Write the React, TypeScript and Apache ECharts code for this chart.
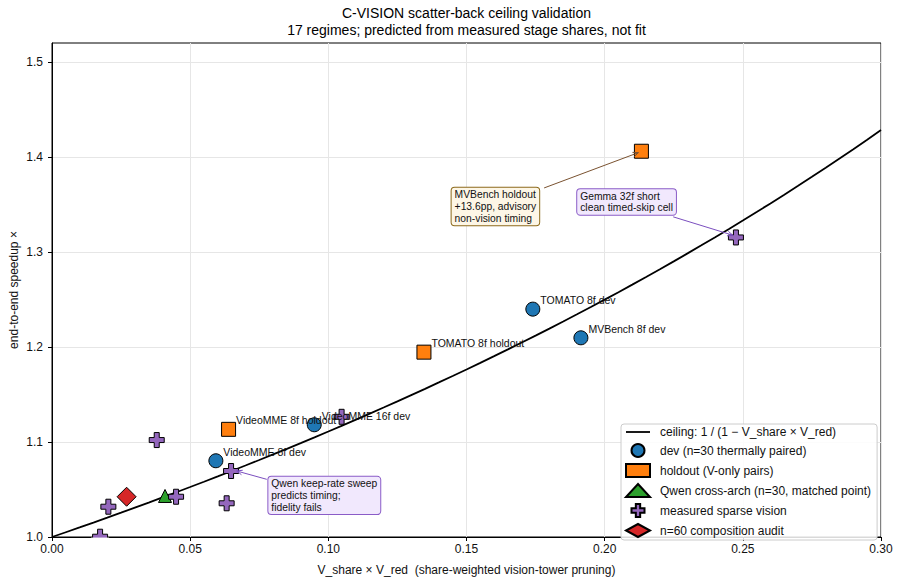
import React, { useEffect, useRef } from 'react';
import * as echarts from 'echarts';

const TITLE = 'C-VISION scatter-back ceiling validation';
const SUBTITLE = '17 regimes; predicted from measured stage shares, not fit';
const X_NAME = 'V_share × V_red  (share-weighted vision-tower pruning)';
const Y_NAME = 'end-to-end speedup ×';

const xTicks = [0, 0.05, 0.1, 0.15, 0.2, 0.25, 0.3];
const yTicks = [1.0, 1.1, 1.2, 1.3, 1.4, 1.5];

const devNames = ['VideoMME 8f dev', 'VideoMME 16f dev', 'TOMATO 8f dev', 'MVBench 8f dev'];
const devX = [0.0593, 0.0949, 0.174, 0.1914];
const devY = [1.0803, 1.1182, 1.24, 1.2098];

const holdoutNames = ['VideoMME 8f holdout', 'TOMATO 8f holdout', 'MVBench holdout'];
const holdoutX = [0.0639, 0.1346, 0.2133];
const holdoutY = [1.1134, 1.1947, 1.4063];
const holdoutLabeled = [true, true, false];

const qwenX = [0.0409];
const qwenY = [1.0432];

const sparseX = [0.0174, 0.0204, 0.0379, 0.0449, 0.0632, 0.0648, 0.1048, 0.2475];
const sparseY = [1.0003, 1.0319, 1.1021, 1.0424, 1.0355, 1.0695, 1.1266, 1.3155];

const auditX = [0.027];
const auditY = [1.0424];

// x positions where the analytic ceiling 1/(1 - x) is drawn
const ceilingXs = Array.from({ length: 61 }, (_, i) => i * 0.005);

const legendNames = [
  'ceiling: 1 / (1 − V_share × V_red)',
  'dev (n=30 thermally paired)',
  'holdout (V-only pairs)',
  'Qwen cross-arch (n=30, matched point)',
  'measured sparse vision',
  'n=60 composition audit',
];

const annotations = [
  {
    target: [holdoutX[2], holdoutY[2]],
    text: 'MVBench holdout\n+13.6pp, advisory\nnon-vision timing',
    box: [-189.8, 36.5],
    start: [-97.3, 36.7],
    end: [-3, 1.4],
    bg: '#fdf6e6',
    border: '#8c6a1c',
    arrow: '#7a5230',
  },
  {
    target: [sparseX[7], sparseY[7]],
    text: 'Gemma 32f short\nclean timed-skip cell',
    box: [-158.7, -48.3],
    start: [-62.7, -20.6],
    end: [-3, -2.2],
    bg: '#f1e8fd',
    border: '#8a5cc7',
    arrow: '#7b4fbf',
  },
  {
    target: [sparseX[5], sparseY[5]],
    text: 'Qwen keep-rate sweep\npredicts timing;\nfidelity fails',
    box: [37.3, 5.7],
    start: [35.7, 8.3],
    end: [5.7, 0],
    bg: '#f1e8fd',
    border: '#8a5cc7',
    arrow: '#7b4fbf',
  },
];

const FONT = '"Liberation Sans", Arial, Helvetica, sans-serif';
const PLUS = 'path://M-1,-3H1V-1H3V1H1V3H-1V1H-3V-1H-1Z';
const LINE_ICON = 'path://M0,0H24V1.8H0Z';

const pointLabel = {
  show: false,
  position: 'right',
  distance: 0,
  offset: [0, -9],
  formatter: '{b}',
  fontSize: 10.5,
  color: '#111',
  fontFamily: FONT,
};

const edge = { borderColor: '#000', borderWidth: 1, opacity: 1 };

export default function App() {
  const ref = useRef<HTMLDivElement>(null);
  useEffect(() => {
    const chart = echarts.init(ref.current!, null, { renderer: 'svg' });
    const option: any = {
      animation: false,
      backgroundColor: '#fff',
      textStyle: { fontFamily: FONT },
      grid: {
        left: 52,
        right: 20,
        top: 43,
        bottom: 46,
        show: true,
        borderColor: '#000',
        borderWidth: 1,
        backgroundColor: 'transparent',
        containLabel: false,
        outerBoundsMode: 'none',
      },
      xAxis: {
        type: 'value',
        min: 0,
        max: 0.3,
        interval: 0.05,
        name: X_NAME,
        nameLocation: 'middle',
        nameGap: 27,
        nameMoveOverlap: false,
        nameTextStyle: { fontSize: 12, color: '#111', fontFamily: FONT },
        axisLine: { show: true, lineStyle: { color: '#000', width: 1 } },
        axisTick: { show: true, length: 4, lineStyle: { color: '#000' } },
        axisLabel: {
          fontSize: 12,
          color: '#111',
          margin: 6,
          formatter: (v: number) => v.toFixed(2),
        },
        splitLine: { show: true, lineStyle: { color: '#e6e6e6', width: 1 } },
      },
      yAxis: {
        type: 'value',
        min: 1.0,
        max: 1.5203,
        interval: 0.1,
        name: Y_NAME,
        nameLocation: 'middle',
        nameGap: 32,
        nameMoveOverlap: false,
        nameTextStyle: { fontSize: 12, color: '#111', fontFamily: FONT },
        axisLine: { show: true, lineStyle: { color: '#000', width: 1 } },
        axisTick: { show: true, length: 4, lineStyle: { color: '#000' }, customValues: yTicks },
        axisLabel: {
          fontSize: 12,
          color: '#111',
          margin: 9,
          customValues: yTicks,
          formatter: (v: number) => v.toFixed(1),
        },
        splitLine: { show: true, lineStyle: { color: '#e6e6e6', width: 1 } },
      },
      legend: {
        orient: 'vertical',
        left: 621,
        top: 424,
        padding: [2, 6, 2, 4],
        itemWidth: 24,
        itemHeight: 13,
        itemGap: 5,
        backgroundColor: 'rgba(255,255,255,0.85)',
        borderColor: '#cccccc',
        borderWidth: 1,
        borderRadius: 3,
        textStyle: { fontSize: 12, color: '#111', fontFamily: FONT, padding: [0, 0, 0, 5] },
        data: legendNames.map((n, i) =>
          i === 0 ? { name: n, icon: LINE_ICON, itemStyle: { color: '#000', borderWidth: 0 } } : { name: n }
        ),
      },
      series: [
        {
          name: legendNames[0],
          type: 'line',
          symbol: 'none',
          z: 2,
          lineStyle: { color: '#000', width: 1.8 },
          itemStyle: { color: '#000' },
          data: ceilingXs.map((x) => [x, 1 / (1 - x)]),
        },
        {
          name: legendNames[1],
          type: 'scatter',
          symbol: 'circle',
          symbolSize: 14,
          z: 3,
          itemStyle: { color: '#1f77b4', ...edge },
          label: pointLabel,
          data: devX.map((x, i) => ({ name: devNames[i], value: [x, devY[i]], label: { show: true } })),
        },
        {
          name: legendNames[2],
          type: 'scatter',
          symbol: 'rect',
          symbolSize: 14,
          z: 3,
          itemStyle: { color: '#ff7f0e', ...edge },
          label: pointLabel,
          data: holdoutX.map((x, i) => ({
            name: holdoutNames[i],
            value: [x, holdoutY[i]],
            label: { show: holdoutLabeled[i] },
          })),
        },
        {
          name: legendNames[3],
          type: 'scatter',
          symbol: 'triangle',
          symbolSize: [13, 13],
          z: 3,
          itemStyle: { color: '#2ca02c', ...edge },
          data: qwenX.map((x, i) => [x, qwenY[i]]),
        },
        {
          name: legendNames[4],
          type: 'scatter',
          symbol: PLUS,
          symbolSize: 15,
          z: 3,
          itemStyle: { color: '#9467bd', ...edge },
          data: sparseX.map((x, i) => [x, sparseY[i]]),
        },
        {
          name: legendNames[5],
          type: 'scatter',
          symbol: 'diamond',
          symbolSize: 19,
          z: 3,
          itemStyle: { color: '#d62728', ...edge },
          data: auditX.map((x, i) => [x, auditY[i]]),
        },
      ],
    };
    chart.setOption(option);

    const toPx = (x: number, y: number) =>
      chart.convertToPixel({ xAxisIndex: 0, yAxisIndex: 0 }, [x, y]) as number[];
    const centerX = (toPx(0, 1)[0] + toPx(0.3, 1)[0]) / 2;
    const bottomPx = toPx(0, 1)[1];

    const graphics: any[] = [
      {
        type: 'text',
        x: centerX,
        y: 12.5,
        z: 20,
        style: { text: TITLE, fontSize: 14, fill: '#000', align: 'center', verticalAlign: 'middle', fontFamily: FONT },
      },
      {
        type: 'text',
        x: centerX,
        y: 29.5,
        z: 20,
        style: { text: SUBTITLE, fontSize: 14, fill: '#000', align: 'center', verticalAlign: 'middle', fontFamily: FONT },
      },
    ];

    // clip markers hanging below the plot frame
    sparseX.forEach((x, i) => {
      const p = toPx(x, sparseY[i]);
      if (p[1] + 8 > bottomPx) {
        graphics.push({
          type: 'rect',
          z: 15,
          shape: { x: p[0] - 9, y: bottomPx + 0.6, width: 18, height: 8 },
          style: { fill: '#fff' },
        });
      }
    });

    annotations.forEach((a) => {
      const p = toPx(a.target[0], a.target[1]);
      const sx = p[0] + a.start[0];
      const sy = p[1] + a.start[1];
      const ex = p[0] + a.end[0];
      const ey = p[1] + a.end[1];
      const ang = Math.atan2(ey - sy, ex - sx);
      const L = 6;
      const w = 0.4;
      graphics.push({
        type: 'line',
        z: 18,
        shape: { x1: sx, y1: sy, x2: ex, y2: ey },
        style: { stroke: a.arrow, lineWidth: 1 },
      });
      graphics.push({
        type: 'polyline',
        z: 18,
        shape: {
          points: [
            [ex - L * Math.cos(ang - w), ey - L * Math.sin(ang - w)],
            [ex, ey],
            [ex - L * Math.cos(ang + w), ey - L * Math.sin(ang + w)],
          ],
        },
        style: { stroke: a.arrow, lineWidth: 1, fill: 'none' },
      });
      graphics.push({
        type: 'text',
        z: 19,
        x: p[0] + a.box[0],
        y: p[1] + a.box[1],
        style: {
          text: a.text,
          fontSize: 10.3,
          lineHeight: 11.8,
          fill: '#111',
          fontFamily: FONT,
          align: 'left',
          verticalAlign: 'top',
          backgroundColor: a.bg,
          borderColor: a.border,
          borderWidth: 1,
          borderRadius: 3,
          padding: [1, 3, 1, 3],
        },
      });
    });

    chart.setOption({ graphic: graphics });
    return () => chart.dispose();
  }, []);
  return (
    <div
      ref={ref}
      style={{ position: 'fixed', left: 0, top: 0, width: 901, height: 583, background: '#fff' }}
    />
  );
}
